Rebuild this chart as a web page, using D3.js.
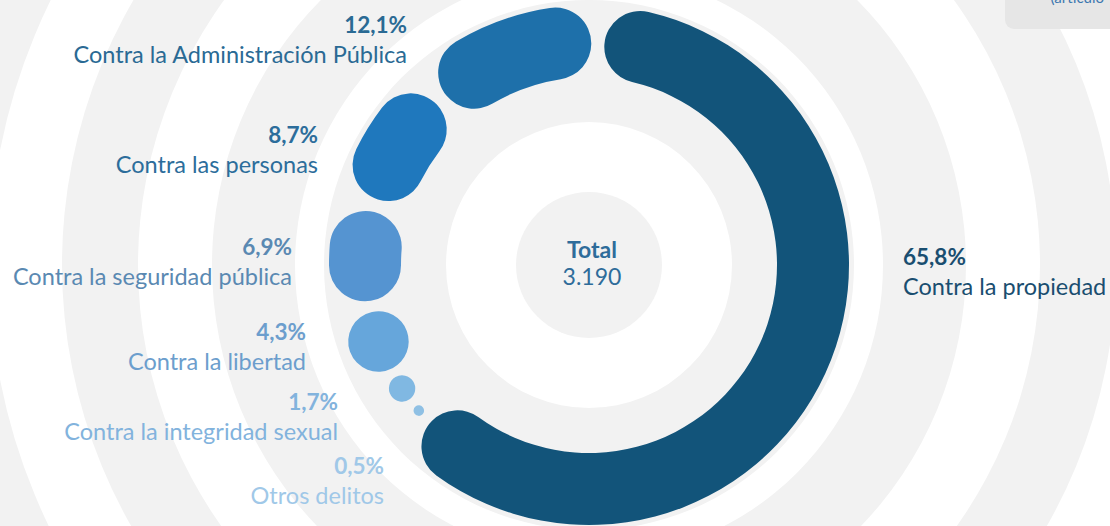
<!DOCTYPE html>
<html><head><meta charset="utf-8">
<script src="https://cdn.jsdelivr.net/npm/d3@7"></script>
<style>html,body{margin:0;padding:0;background:#fff;overflow:hidden}svg{display:block}</style>
</head><body>
<svg id="chart" width="1110" height="526"></svg>
<script>
// ---- data ----
const categories = [
  "Contra la propiedad",
  "Otros delitos",
  "Contra la integridad sexual",
  "Contra la libertad",
  "Contra la seguridad pública",
  "Contra las personas",
  "Contra la Administración Pública"
];
const values = [65.8, 0.5, 1.7, 4.3, 6.9, 8.7, 12.1];
const totalLabel = "Total";
const totalValue = 3190;
const cornerNote = "(artículo";

// ---- styles ----
const segmentColors = ["#12547a", "#8fc0e4", "#80b8e2", "#66a6db", "#5594d1", "#1f78bd", "#1e70aa"];
const textColors    = ["#1a4e70", "#a0c8e8", "#82b3dd", "#6c9ecd", "#5a89b2", "#2c6d9b", "#2a6a94"];

const W = 1110, H = 526;
const cx = 589, cy = 265;
const rMid = 224, thick = 72;

const locale = d3.formatLocale({decimal: ",", thousands: ".", grouping: [3], currency: ["", ""]});
const fmtPct = v => locale.format(".1f")(v) + "%";
const fmtInt = locale.format(",d");

const svg = d3.select("#chart");
svg.append("rect").attr("width", W).attr("height", H).attr("fill", "#ffffff");

// background concentric rings
const ringEdges = [0, 73, 143, 265, 294, 377, 451, 527, 600, 680, 760, 840];
const bg = svg.append("g").attr("transform", `translate(${cx},${cy})`);
const ringArc = d3.arc();
for (let i = 0; i < ringEdges.length - 1; i += 2) {
  bg.append("path")
    .attr("d", ringArc({innerRadius: ringEdges[i], outerRadius: ringEdges[i + 1], startAngle: 0, endAngle: 2 * Math.PI}))
    .attr("fill", "#f2f2f2");
}

// corner note box (top right)
svg.append("rect").attr("x", 1005).attr("y", -20).attr("width", 130).attr("height", 49)
  .attr("rx", 9).attr("fill", "#e6e6e6");
svg.append("text").attr("x", 1104).attr("y", 3).attr("text-anchor", "end")
  .attr("font-family", "Lato").attr("font-size", 15).attr("fill", "#3d78b0").text(cornerNote);

// donut
const color = d3.scaleOrdinal().domain(categories).range(segmentColors);
const tcolor = d3.scaleOrdinal().domain(categories).range(textColors);
const data = categories.map((c, i) => ({cat: c, v: values[i]}));
const pad = 3.4 * Math.PI / 180;
const start = 0.04;
const pie = d3.pie().sort(null).value(d => d.v).padAngle(pad).startAngle(start).endAngle(start + 2 * Math.PI);
const arcs = pie(data);

const g = svg.append("g").attr("transform", `translate(${cx},${cy})`);
g.selectAll("path.seg").data(arcs).join("path")
  .attr("class", "seg")
  .attr("fill", d => color(d.data.cat))
  .attr("d", d => {
    let a0 = d.startAngle + d.padAngle / 2, a1 = d.endAngle - d.padAngle / 2;
    const L = (a1 - a0) * rMid;
    let t = thick;
    if (L < thick) {
      // small shares become round dots, slightly enlarged
      t = Math.min(thick, L + 4);
      const grow = (t - L) / 2 / rMid;
      a0 -= grow; a1 += grow;
    }
    return d3.arc().cornerRadius(t / 2)({innerRadius: rMid - t / 2, outerRadius: rMid + t / 2,
      startAngle: a0, endAngle: a1});
  });

// labels
const labelPos = {
  "Contra la Administración Pública": {x: 407, y: 33, anchor: "end"},
  "Contra las personas": {x: 318, y: 143, anchor: "end"},
  "Contra la seguridad pública": {x: 292, y: 255, anchor: "end"},
  "Contra la libertad": {x: 306, y: 340, anchor: "end"},
  "Contra la integridad sexual": {x: 338, y: 410, anchor: "end"},
  "Otros delitos": {x: 384, y: 474, anchor: "end"},
  "Contra la propiedad": {x: 903, y: 265, anchor: "start"}
};
const lab = svg.append("g").attr("font-family", "Lato");
data.forEach(d => {
  const p = labelPos[d.cat];
  const t = lab.append("text").attr("text-anchor", p.anchor).attr("fill", tcolor(d.cat));
  t.append("tspan").attr("x", p.x).attr("y", p.y).attr("font-size", 22.5).attr("font-weight", 700).text(fmtPct(d.v));
  t.append("tspan").attr("x", p.x).attr("y", p.y + 30).attr("font-size", 23.5).attr("font-weight", 400).text(d.cat);
});

// center total
const ct = svg.append("g").attr("font-family", "Lato").attr("text-anchor", "middle").attr("fill", "#2e6c9a");
ct.append("text").attr("x", cx + 3).attr("y", 258).attr("font-size", 23).attr("font-weight", 700).text(totalLabel);
ct.append("text").attr("x", cx + 3).attr("y", 285).attr("font-size", 23).attr("font-weight", 400).text(fmtInt(totalValue));
</script>
</body></html>
